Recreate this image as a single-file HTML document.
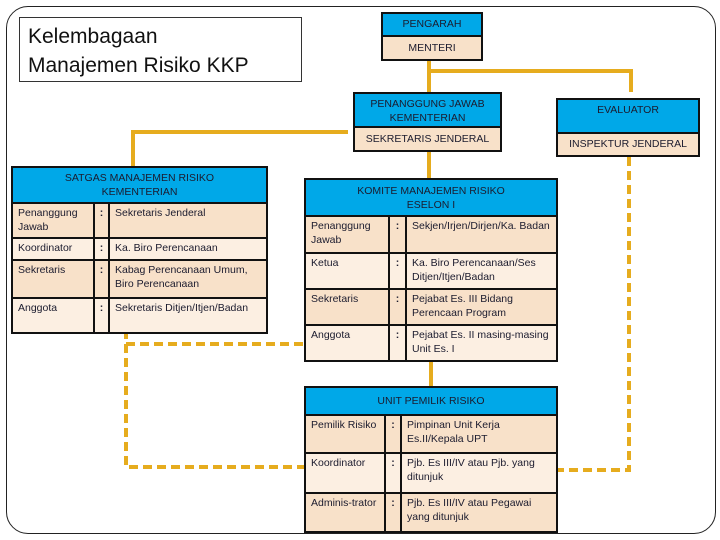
<!DOCTYPE html>
<html><head><meta charset="utf-8"><style>
*{box-sizing:border-box;margin:0;padding:0}
body{width:720px;height:540px;background:#fff;position:relative;overflow:hidden;font-family:"Liberation Sans",sans-serif;color:#1b1b2e}
.a{position:absolute}
.frame{left:6px;top:6px;width:710px;height:528px;border:1.5px solid #222;border-radius:22px}
.title{left:19px;top:17px;width:283px;height:65px;border:1px solid #333;font-size:21px;line-height:29px;padding:4px 8px;color:#111}
.blue{background:#00a8e8;border:2px solid #111;text-align:center;font-size:10.5px;line-height:14px}
.beige{background:#f8e1c9;border:2px solid #111;border-top:none;text-align:center;font-size:10.5px}
table{position:absolute;border-collapse:collapse;font-size:10.5px;line-height:14px}
td{border:2px solid #111;vertical-align:top;padding:2px 5px}
tr.d td{background:#f8e1c9}
tr.l td{background:#fcefe2}
td.c{text-align:center;padding:2px 0;font-weight:bold}
th{background:#00a8e8;border:2px solid #111;font-weight:normal;text-align:center;padding:3px}
</style></head><body>
<div class="a frame"></div>
<div class="a title">Kelembagaan<br>Manajemen Risiko KKP</div>
<svg class="a" style="left:0;top:0" width="720" height="540">
<g stroke="#e6ac1e" stroke-width="4" fill="none">
<path d="M429 61V92M429 71H631V92M348 132H133V166M429 151V178M431 360V386"/>
<path d="M126 330V467H304M126 344H304M629 157V470H557" stroke-dasharray="9,5"/>
</g></svg>
<div class="a blue" style="left:381px;top:12px;width:102px;height:25px;line-height:21px">PENGARAH</div>
<div class="a beige" style="left:381px;top:37px;width:102px;height:24px;line-height:22px">MENTERI</div>
<div class="a blue" style="left:353px;top:92px;width:149px;height:36px;padding-top:3px">PENANGGUNG JAWAB<br>KEMENTERIAN</div>
<div class="a beige" style="left:353px;top:128px;width:149px;height:24px;line-height:22px">SEKRETARIS JENDERAL</div>
<div class="a blue" style="left:556px;top:98px;width:144px;height:36px;padding-top:3px">EVALUATOR</div>
<div class="a beige" style="left:556px;top:134px;width:144px;height:23px;line-height:21px">INSPEKTUR JENDERAL</div>

<table style="left:11px;top:166px;width:257px">
<tr><th colspan="3" style="height:34px">SATGAS MANAJEMEN RISIKO<br>KEMENTERIAN</th></tr>
<tr class="d"><td style="width:82px;height:35px">Penanggung Jawab</td><td class="c" style="width:15px">:</td><td>Sekretaris Jenderal</td></tr>
<tr class="l"><td style="height:22px">Koordinator</td><td class="c">:</td><td>Ka. Biro Perencanaan</td></tr>
<tr class="d"><td style="height:38px">Sekretaris</td><td class="c">:</td><td>Kabag Perencanaan Umum, Biro Perencanaan</td></tr>
<tr class="l"><td style="height:35px">Anggota</td><td class="c">:</td><td>Sekretaris Ditjen/Itjen/Badan</td></tr>
</table>

<table style="left:304px;top:178px;width:254px">
<tr><th colspan="3" style="height:37px">KOMITE MANAJEMEN RISIKO<br>ESELON I</th></tr>
<tr class="d"><td style="width:84px;height:37px">Penanggung Jawab</td><td class="c" style="width:17px">:</td><td>Sekjen/Irjen/Dirjen/Ka. Badan</td></tr>
<tr class="l"><td style="height:36px">Ketua</td><td class="c">:</td><td>Ka. Biro Perencanaan/Ses Ditjen/Itjen/Badan</td></tr>
<tr class="d"><td style="height:36px">Sekretaris</td><td class="c">:</td><td>Pejabat Es. III Bidang Perencaan Program</td></tr>
<tr class="l"><td style="height:36px">Anggota</td><td class="c">:</td><td>Pejabat Es. II masing-masing Unit Es. I</td></tr>
</table>

<table style="left:304px;top:386px;width:254px">
<tr><th colspan="3" style="height:28px">UNIT PEMILIK RISIKO</th></tr>
<tr class="d"><td style="width:80px;height:38px">Pemilik Risiko</td><td class="c" style="width:16px">:</td><td>Pimpinan Unit Kerja Es.II/Kepala UPT</td></tr>
<tr class="l"><td style="height:40px">Koordinator</td><td class="c">:</td><td>Pjb. Es III/IV atau Pjb. yang ditunjuk</td></tr>
<tr class="d"><td style="height:39px">Adminis-trator</td><td class="c">:</td><td>Pjb. Es III/IV atau Pegawai yang ditunjuk</td></tr>
</table>
</body></html>
